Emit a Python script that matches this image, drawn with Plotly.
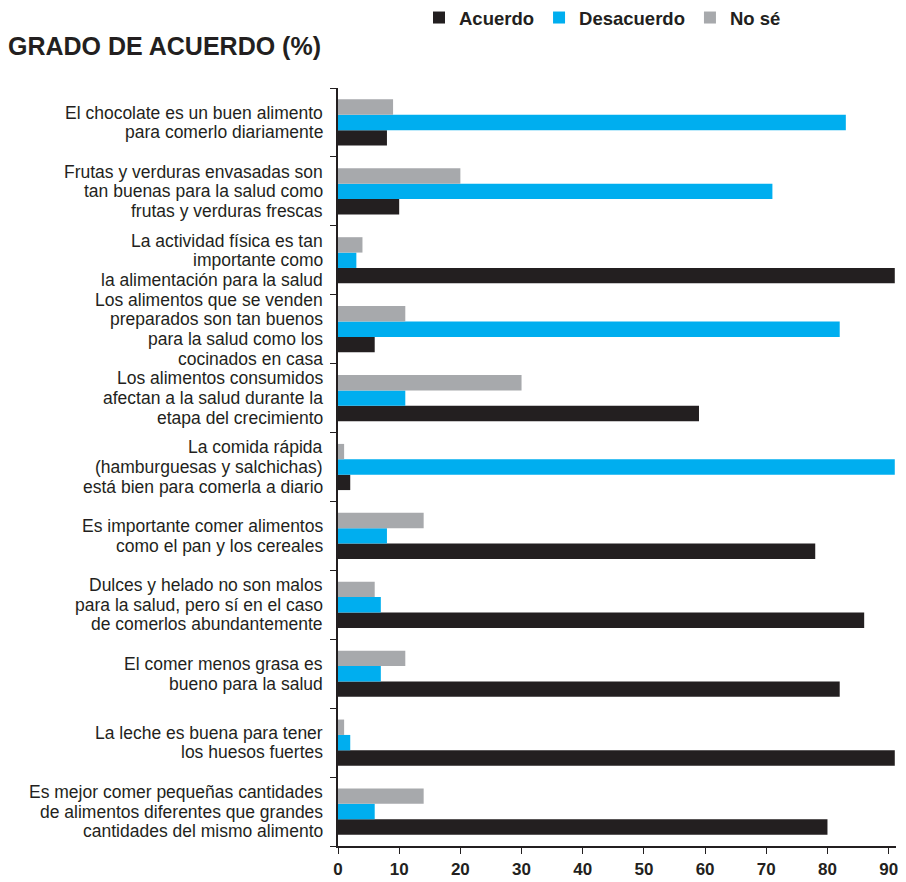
import plotly.graph_objects as go

categories = [
    "El chocolate es un buen alimento<br>para comerlo diariamente",
    "Frutas y verduras envasadas son<br>tan buenas para la salud como<br>frutas y verduras frescas",
    "La actividad física es tan<br>importante como<br>la alimentación para la salud",
    "Los alimentos que se venden<br>preparados son tan buenos<br>para la salud como los<br>cocinados en casa",
    "Los alimentos consumidos<br>afectan a la salud durante la<br>etapa del crecimiento",
    "La comida rápida<br>(hamburguesas y salchichas)<br>está bien para comerla a diario",
    "Es importante comer alimentos<br>como el pan y los cereales",
    "Dulces y helado no son malos<br>para la salud, pero sí en el caso<br>de comerlos abundantemente",
    "El comer menos grasa es<br>bueno para la salud",
    "La leche es buena para tener<br>los huesos fuertes",
    "Es mejor comer pequeñas cantidades<br>de alimentos diferentes que grandes<br>cantidades del mismo alimento",
]

acuerdo = [8, 10, 91, 6, 59, 2, 78, 86, 82, 91, 80]
desacuerdo = [83, 71, 3, 82, 11, 91, 8, 7, 7, 2, 6]
no_se = [9, 20, 4, 11, 30, 1, 14, 6, 11, 1, 14]

x_ticks = [0, 10, 20, 30, 40, 50, 60, 70, 80, 90]

TEXT = "#231f20"
FONT = "Liberation Sans, Arial, Helvetica, sans-serif"

# the page body has an 8px default margin; figure is sized to fit the window
W, H = 898, 874
ML, MR, MT, MB = 330, 10, 80, 36

fig = go.Figure()
fig.add_trace(go.Bar(name="Acuerdo", y=categories, x=acuerdo, orientation="h",
                     marker=dict(color="#231f20", line=dict(width=0))))
fig.add_trace(go.Bar(name="Desacuerdo", y=categories, x=desacuerdo, orientation="h",
                     marker=dict(color="#00aeef", line=dict(width=0))))
fig.add_trace(go.Bar(name="No sé", y=categories, x=no_se, orientation="h",
                     marker=dict(color="#a7a9ac", line=dict(width=0))))

# category labels, one annotation per line for tight line spacing
line_h = 19.6
annotations = []
for cat in categories:
    lines = cat.split("<br>")
    n = len(lines)
    for k, ln in enumerate(lines):
        annotations.append(dict(
            xref="paper", yref="y", x=0, y=cat,
            text=ln, showarrow=False, xanchor="right", yanchor="middle",
            xshift=-13, yshift=((n - 1) / 2 - k) * line_h,
            font=dict(family=FONT, size=17.5, color=TEXT),
        ))

plot_h = H - MT - MB
plot_w = W - ML - MR

fig.update_layout(
    width=W, height=H,
    margin=dict(l=ML, r=MR, t=MT, b=MB, autoexpand=False),
    paper_bgcolor="white", plot_bgcolor="white",
    barmode="group", bargap=0.33, bargroupgap=0,
    font=dict(family=FONT, color=TEXT),
    title=dict(text="<b>GRADO DE ACUERDO (%)</b>", x=0, xanchor="left",
               xref="container", yref="container", y=1 - 38 / H, yanchor="middle",
               font=dict(family=FONT, size=25, color=TEXT)),
    legend=dict(orientation="h", x=(411 - ML) / plot_w, xanchor="left",
                y=1 + (MT - 10) / plot_h, yanchor="middle",
                font=dict(family=FONT, size=18.5, color=TEXT, weight="bold"),
                traceorder="normal", bgcolor="rgba(0,0,0,0)"),
    annotations=annotations,
    xaxis=dict(range=[0, 91.2], tickvals=x_ticks, ticktext=[str(v) for v in x_ticks],
               showgrid=False, zeroline=False, showline=True, linecolor=TEXT, linewidth=1.5,
               ticks="outside", ticklen=6, tickcolor=TEXT, tickwidth=1.2,
               tickfont=dict(family=FONT, size=17, color=TEXT, weight="bold"),
               ticklabelstandoff=1),
    yaxis=dict(type="category", categoryorder="array", categoryarray=categories[::-1],
               showgrid=False, zeroline=False, showline=True, linecolor=TEXT, linewidth=1.5,
               ticks="outside", tickson="boundaries", ticklen=6, tickcolor=TEXT, tickwidth=1.2,
               showticklabels=False),
)

fig.write_html("out.html")
